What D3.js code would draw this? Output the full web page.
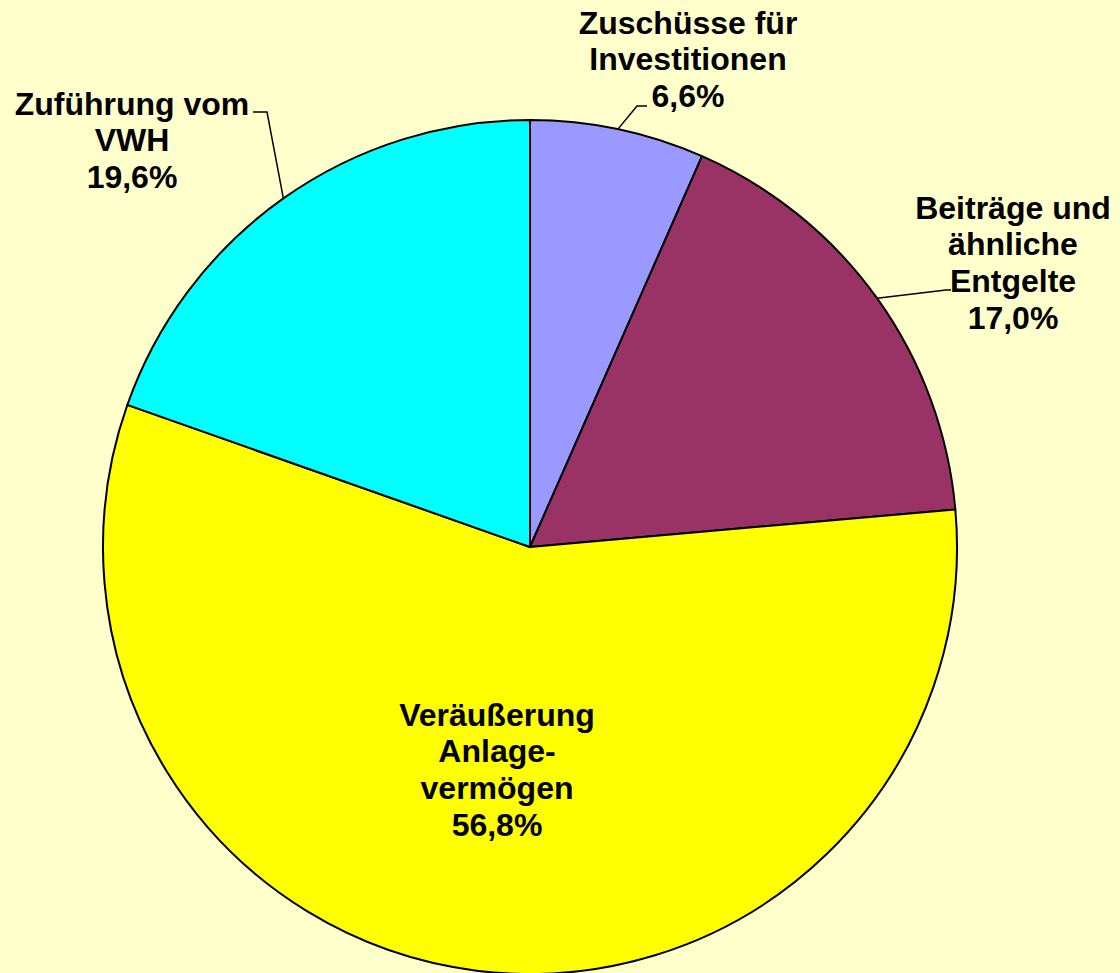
<!DOCTYPE html>
<html>
<head>
<meta charset="utf-8">
<script src="https://cdn.jsdelivr.net/npm/d3@7"></script>
<style>
  html, body { margin: 0; padding: 0; background: #FFFFCC; }
  svg { display: block; }
  .lbl { font-family: "Liberation Sans", Arial, sans-serif; font-weight: bold; font-size: 32px; fill: #000; }
</style>
</head>
<body>
<svg width="1120" height="973"></svg>
<script>
  // data
  const categories = ['Zuschüsse für Investitionen', 'Beiträge und ähnliche Entgelte', 'Veräußerung Anlagevermögen', 'Zuführung vom VWH'];
  const values = [6.6, 17.0, 56.8, 19.6];
  const labelLines = [
    ['Zuschüsse für', 'Investitionen', '6,6%'],
    ['Beiträge und', 'ähnliche', 'Entgelte', '17,0%'],
    ['Veräußerung', 'Anlage-', 'vermögen', '56,8%'],
    ['Zuführung vom', 'VWH', '19,6%']
  ];
  const colors = ['#9999FF', '#993366', '#FFFF00', '#00FFFF'];

  const svg = d3.select('svg');
  const cx = 530, cy = 547, radius = 427;
  const lineH = 36.7;

  // label placement: centre x, first line centre y, leader elbow + end
  const layout = [
    { x: 688, y: 22, elbow: [637, 106], end: [647, 106] },
    { x: 1013, y: 207, elbow: [946, 290], end: [951, 290] },
    { x: 497, y: 714, elbow: null },
    { x: 132, y: 103, elbow: [267, 112], end: [253, 112] }
  ];

  const data = categories.map((c, i) => ({ name: c, value: values[i], i }));

  const pie = d3.pie().sort(null).value(d => d.value);
  const arc = d3.arc().innerRadius(0).outerRadius(radius);

  const g = svg.append('g').attr('transform', `translate(${cx},${cy})`);
  const arcs = pie(data);

  g.selectAll('path.slice').data(arcs)
    .enter().append('path')
      .attr('class', 'slice')
      .attr('d', arc)
      .attr('fill', d => colors[d.data.i])
      .attr('stroke', '#000')
      .attr('stroke-width', 2)
      .attr('stroke-linejoin', 'round');

  // leader lines from the slice's mid angle on the rim
  arcs.forEach(a => {
    const L = layout[a.data.i];
    if (!L.elbow) return;
    const mid = (a.startAngle + a.endAngle) / 2;
    const sx = cx + radius * Math.sin(mid);
    const sy = cy - radius * Math.cos(mid);
    svg.append('polyline')
      .attr('points', [[sx, sy], L.elbow, L.end].map(p => p.join(',')).join(' '))
      .attr('fill', 'none')
      .attr('stroke', '#000')
      .attr('stroke-width', 1.5);
  });

  data.forEach(d => {
    const L = layout[d.i];
    const t = svg.append('text')
      .attr('class', 'lbl')
      .attr('text-anchor', 'middle');
    labelLines[d.i].forEach((s, k) => {
      t.append('tspan')
        .attr('x', L.x)
        .attr('y', L.y + k * lineH)
        .attr('dy', '0.36em')
        .text(s);
    });
  });
</script>
</body>
</html>
